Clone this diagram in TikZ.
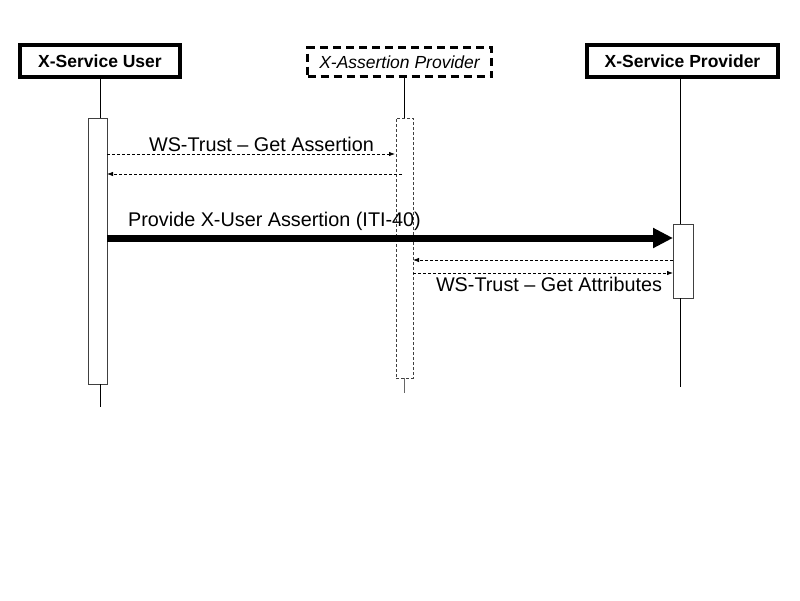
\documentclass[tikz,border=0pt]{standalone}
\usepackage{fontspec}
\setmainfont{Liberation Sans}
\usetikzlibrary{arrows.meta}
\begin{document}
\begin{tikzpicture}[x=1pt,y=-1pt,
  actor/.style={draw, line width=4pt, inner sep=0pt, font=\fontsize{17.5}{20}\selectfont\bfseries},
  dactor/.style={draw, line width=2.5pt, dash pattern=on 8pt off 5pt, inner sep=0pt, font=\fontsize{17.5}{20}\selectfont\itshape},
  actbox/.style={draw=black!75, line width=0.9pt, inner sep=0pt, minimum width=19pt},
  dactbox/.style={draw=black!75, line width=0.8pt, dash pattern=on 3pt off 2pt, inner sep=0pt},
  life/.style={draw=black, line width=0.9pt},
  msg/.style={draw, line width=0.8pt, dash pattern=on 3pt off 2pt, -{Latex[length=6pt,width=4.5pt]}},
  bigmsg/.style={draw, line width=7pt, -{Triangle[length=20pt,width=19pt]}},
  lbl/.style={font=\fontsize{19.8}{22}\selectfont, inner sep=0pt, anchor=base}
]
\useasboundingbox (0,0) rectangle (800,600);
\fill[white] (0,0) rectangle (800,600);

% actors
\node[actor, minimum width=160pt, minimum height=32pt] (uu) at (100,61) {X-Service User};
\node[dactor, minimum width=184pt, minimum height=29pt] (ap) at (399.5,62) {X-Assertion Provider};
\node[actor, minimum width=191pt, minimum height=32pt] (pp) at (682.5,61) {X-Service Provider};

% activations
\node[actbox, minimum width=19pt, minimum height=266pt] (ua) at (97.5,251) {};
\node[dactbox, minimum width=17pt, minimum height=260pt] (aa) at (404.5,248) {};
\node[actbox, minimum width=20pt, minimum height=74pt] (pa) at (683,261) {};

% lifeline ends
\coordinate (uend) at (100,407);
\coordinate (aend) at (404,393);
\coordinate (pend) at (680,387);

% lifelines
\draw[life] (uu.south) -- (uu.south |- ua.north);
\draw[life] (ua.south -| uu.south) -- (uend);
\draw[life] (404,78) -- (404,118);
\draw[life, draw=black!60] (aa.south -| aend) -- (aend);
\draw[life] (pp.south -| pend) -- (pend |- pa.north);
\draw[life] (pa.south -| pend) -- (pend);

% message endpoints
\coordinate (m1a) at (107,154);
\coordinate (m1b) at (395,154);
\coordinate (m2a) at (402,174);
\coordinate (m2b) at (107,174);
\coordinate (m3a) at (107,238);
\coordinate (m3b) at (673,238);
\coordinate (m4a) at (673,260);
\coordinate (m4b) at (413,260);
\coordinate (m5a) at (413,273);
\coordinate (m5b) at (673,273);

\draw[msg] (m1a) -- (m1b);
\draw[msg] (m2a) -- (m2b);
\draw[bigmsg] (m3a) -- (m3b);
\draw[msg] (m4a) -- (m4b);
\draw[msg] (m5a) -- (m5b);

% labels
\node[lbl] (l1) at (261.5,151) {WS-Trust – Get Assertion};
\node[lbl] (l3) at (274.5,226) {Provide X-User Assertion (ITI-40)};
\node[lbl] (l5) at (549,291) {WS-Trust – Get Attributes};
\end{tikzpicture}
\end{document}
